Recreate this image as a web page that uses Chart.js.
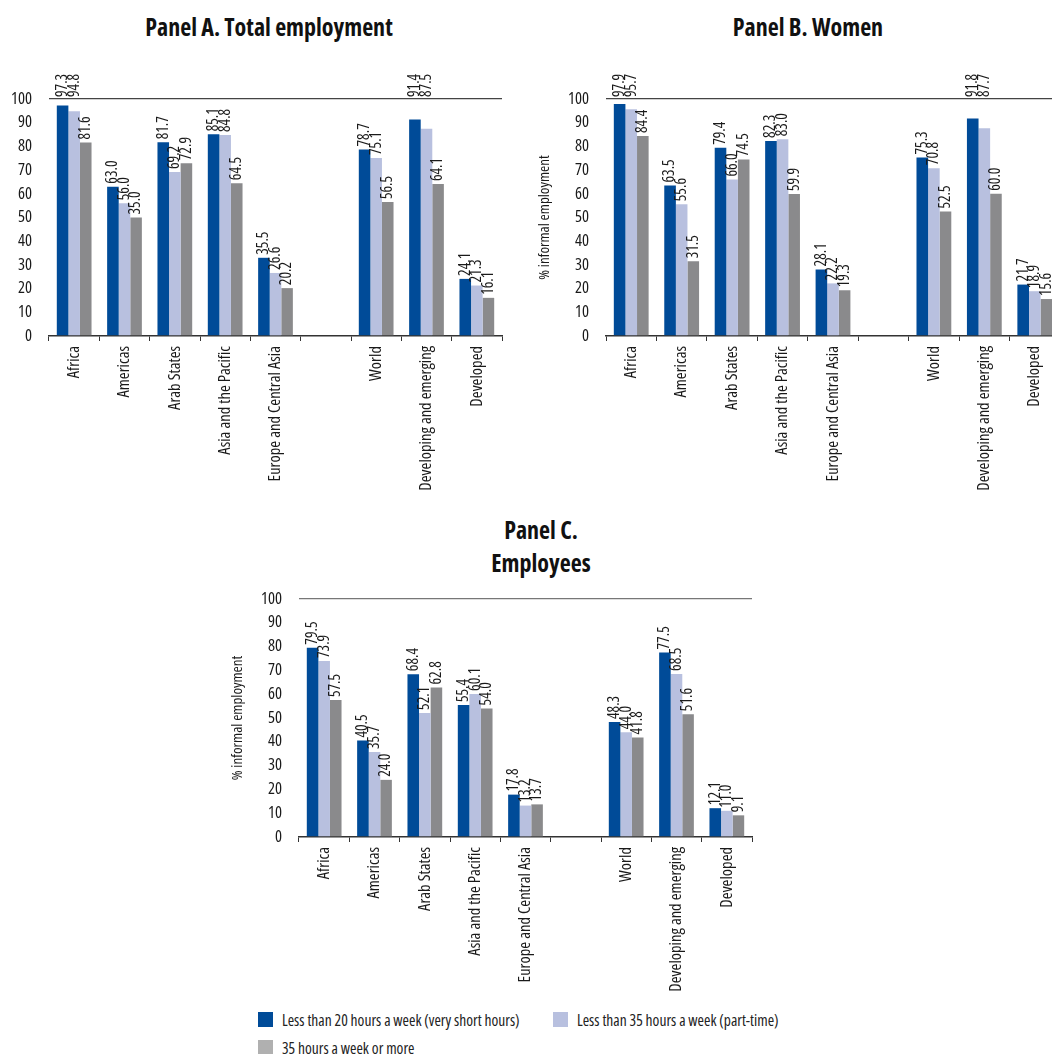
<!DOCTYPE html>
<html>
<head>
<meta charset="utf-8">
<script src="https://cdn.jsdelivr.net/npm/chart.js@4.4.1/dist/chart.umd.min.js"></script>
<style>
  html, body { margin: 0; padding: 0; background: #fff; }
  body { width: 1052px; height: 1054px; overflow: hidden; position: relative;
         font-family: 'Open Sans', sans-serif; font-stretch: 75%; color: #111; }
  canvas { position: absolute; }
  .title { position: absolute; font-weight: bold; font-size: 24px; line-height: 31px; text-align: center; color: #111; }
  .leg { position: absolute; font-size: 15.5px; line-height: 16px; color: #222; white-space: nowrap; }
  .leg i { display: inline-block; width: 15px; height: 15px; vertical-align: top; margin-right: 9px; }
</style>
</head>
<body>
<div class="title" style="left:0; top:11px; width:538px;">Panel A. Total employment</div>
<div class="title" style="left:678px; top:11px; width:260px;">Panel B. Women</div>
<div class="title" style="left:411px; top:513px; width:260px; line-height:33px;">Panel C.<br>Employees</div>

<canvas id="panel-a" width="520" height="500" style="left:0; top:0;"></canvas>
<canvas id="panel-b" width="550" height="500" style="left:520px; top:0;"></canvas>
<canvas id="panel-c" width="542" height="430" style="left:220px; top:572px;"></canvas>

<div id="legend"></div>

<script>
const FONT = "'Open Sans', sans-serif"

const regions = ['Africa', 'Americas', 'Arab States', 'Asia and the Pacific', 'Europe and Central Asia', '',
  'World', 'Developing and emerging', 'Developed']

const seriesNames = ['Less than 20 hours a week (very short hours)', 'Less than 35 hours a week (part-time)', '35 hours a week or more']

// Panel A. Total employment
const totalShort = [97.3, 63.0, 81.7, 85.1, 33.0, null, 78.7, 91.4, 24.1]
const totalPart = [94.8, 56.0, 69.2, 84.8, 26.6, null, 75.1, 87.5, 21.3]
const totalFull = [81.6, 50.0, 72.9, 64.5, 20.2, null, 56.5, 64.1, 16.1]
// printed labels (a couple differ from the bar heights in the source)
const totalShortLabels = ['97.3', '63.0', '81.7', '85.1', '35.5', '', '78.7', '91.4', '24.1']
const totalPartLabels = ['94.8', '56.0', '69.2', '84.8', '26.6', '', '75.1', '87.5', '21.3']
const totalFullLabels = ['81.6', '35.0', '72.9', '64.5', '20.2', '', '56.5', '64.1', '16.1']

// Panel B. Women
const womenShort = [97.9, 63.5, 79.4, 82.3, 28.1, null, 75.3, 91.8, 21.7]
const womenPart = [95.7, 55.6, 66.0, 83.0, 22.2, null, 70.8, 87.7, 18.9]
const womenFull = [84.4, 31.5, 74.5, 59.9, 19.3, null, 52.5, 60.0, 15.6]

// Panel C. Employees
const empShort = [79.5, 40.5, 68.4, 55.4, 17.8, null, 48.3, 77.5, 12.1]
const empPart = [73.9, 35.7, 52.1, 60.1, 13.2, null, 44.0, 68.5, 11.0]
const empFull = [57.5, 24.0, 62.8, 54.0, 13.7, null, 41.8, 51.6, 9.1]

const colors = ['#004b98', '#b8c0df', '#8a8a8c']
const legendColors = ['#004b98', '#b8c0df', '#b0b0b0']
const textColor = '#1a1a1a'

// condensed Open Sans on the canvas: use the shorthand if the browser takes it, else force fontStretch
const probe = document.createElement('canvas').getContext('2d')
probe.font = "16px 'Open Sans'"
const normalWidth = probe.measureText('Developing and emerging').width
probe.font = "condensed 16px 'Open Sans'"
const stretchInShorthand = probe.measureText('Developing and emerging').width < normalWidth * 0.9
if (!stretchInShorthand) {
  const desc = Object.getOwnPropertyDescriptor(CanvasRenderingContext2D.prototype, 'font')
  Object.defineProperty(CanvasRenderingContext2D.prototype, 'font', {
    configurable: true,
    get() { return desc.get.call(this) },
    set(v) { desc.set.call(this, v); this.fontStretch = 'condensed' }
  })
}
const WEIGHT = stretchInShorthand ? 'condensed' : 'normal'

Chart.defaults.font.family = FONT
Chart.defaults.font.weight = WEIGHT
Chart.defaults.color = textColor

const fmt = arr => arr.map(v => v == null ? '' : v.toFixed(1))

// rotated value labels above each bar, pushed above the plot top when they would reach the 100 line
const barLabels = {
  id: 'barLabels',
  afterDatasetsDraw(chart, args, opts) {
    const { ctx, chartArea } = chart
    ctx.save()
    ctx.font = WEIGHT + ' 15.5px ' + FONT
    ctx.fillStyle = textColor
    ctx.textAlign = 'left'
    ctx.textBaseline = 'middle'
    chart.data.datasets.forEach((ds, i) => {
      const meta = chart.getDatasetMeta(i)
      meta.data.forEach((bar, j) => {
        const txt = opts.labels[i][j]
        if (!txt) return
        const w = ctx.measureText(txt).width
        let y = bar.y - 3
        if (y - w < chartArea.top + 6) y = chartArea.top - 2
        ctx.save()
        ctx.translate(bar.x, y)
        ctx.rotate(-Math.PI / 2)
        ctx.fillText(txt, 0, 0)
        ctx.restore()
      })
    })
    ctx.restore()
  }
}

function makePanel(id, values, labels, opts) {
  const ctx = document.getElementById(id)
  return new Chart(ctx, {
    type: 'bar',
    data: {
      labels: regions,
      datasets: values.map((vals, i) => ({
        label: seriesNames[i],
        data: vals,
        backgroundColor: colors[i],
        borderWidth: 0,
        categoryPercentage: 0.69,
        barPercentage: 1.0
      }))
    },
    options: {
      responsive: false,
      animation: false,
      layout: { padding: { top: opts.top, right: opts.right, left: 0, bottom: 0 } },
      plugins: {
        legend: { display: false },
        title: { display: false },
        tooltip: { enabled: false },
        barLabels: { labels: labels }
      },
      scales: {
        x: {
          afterFit: s => { s.height = opts.xHeight },
          grid: { offset: true, drawOnChartArea: false, drawTicks: true, tickLength: 5, color: '#333' },
          border: { display: true, color: '#333', width: 1.5 },
          ticks: { maxRotation: 90, minRotation: 90, autoSkip: false, padding: 5, font: { size: 16.5 }, color: textColor }
        },
        y: {
          min: 0,
          max: 100,
          afterFit: s => { s.width = opts.yWidth },
          grid: {
            drawTicks: false,
            lineWidth: 1.3,
            color: c => (c.tick && c.tick.value === 100) ? opts.topLine : 'rgba(0,0,0,0)'
          },
          border: { display: false },
          ticks: { stepSize: 10, padding: 17, font: { size: 16.5 }, color: textColor },
          title: {
            display: !!opts.yTitle,
            text: opts.yTitle || '',
            font: { size: 15 },
            color: textColor,
            padding: { top: opts.titlePad || 0, bottom: 0 }
          }
        }
      }
    },
    plugins: [barLabels]
  })
}

makePanel('panel-a', [totalShort, totalPart, totalFull],
  [totalShortLabels, totalPartLabels, totalFullLabels],
  { top: 99, right: 18, xHeight: 164, yWidth: 49, topLine: '#444' })

makePanel('panel-b', [womenShort, womenPart, womenFull],
  [fmt(womenShort), fmt(womenPart), fmt(womenFull)],
  { top: 99, right: 10, xHeight: 164, yWidth: 86, topLine: '#444', yTitle: '% informal employment', titlePad: 16 })

makePanel('panel-c', [empShort, empPart, empFull],
  [fmt(empShort), fmt(empPart), fmt(empFull)],
  { top: 0, right: 10, xHeight: 165, yWidth: 79, topLine: '#777', yTitle: '% informal employment', titlePad: 9 })

// legend under panel C
const legendPos = [[258, 1012], [553, 1012], [258, 1040]]
const legend = document.getElementById('legend')
seriesNames.forEach((name, i) => {
  const item = document.createElement('div')
  item.className = 'leg'
  item.style.left = legendPos[i][0] + 'px'
  item.style.top = legendPos[i][1] + 'px'
  const box = document.createElement('i')
  box.style.background = legendColors[i]
  item.appendChild(box)
  item.appendChild(document.createTextNode(name))
  legend.appendChild(item)
})
</script>
</body>
</html>
